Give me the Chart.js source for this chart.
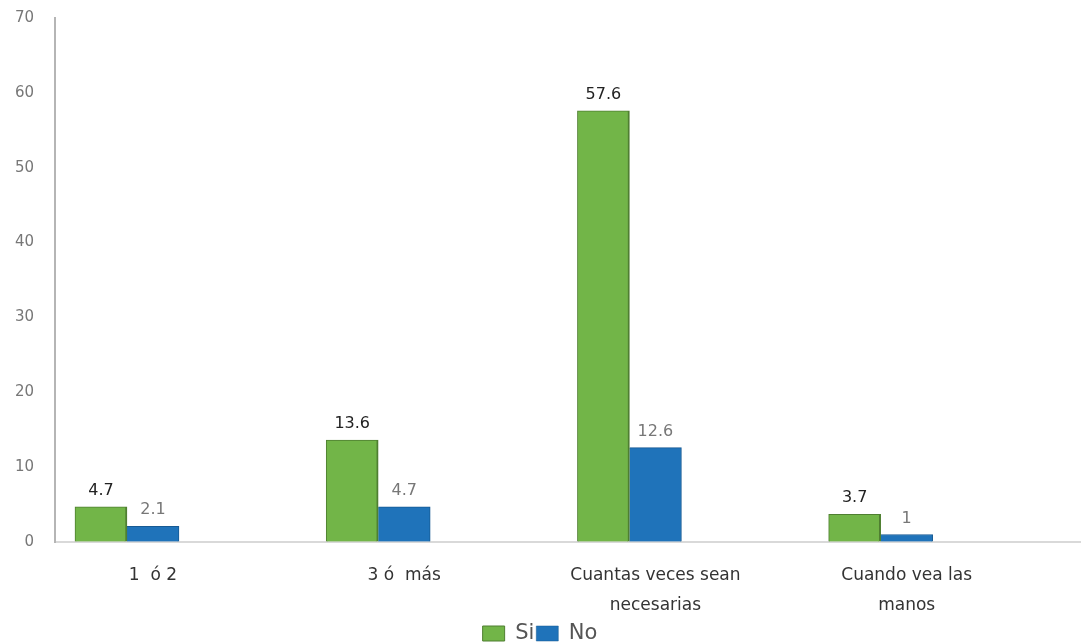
<!DOCTYPE html>
<html>
<head>
<meta charset="utf-8">
<title>Si / No</title>
<script src="https://cdn.jsdelivr.net/npm/chart.js@4/dist/chart.umd.min.js"></script>
<style>
  html, body { margin: 0; padding: 0; background: #fff; }
  #wrap { width: 1083px; height: 642px; }
</style>
</head>
<body>
<div id="wrap"><canvas id="chart"></canvas></div>
<script>
'use strict';

// categories (wrapped the same way as the picture)
let categories = [
  ['1  ó 2'],
  ['3 ó  más'],
  ['Cuantas veces sean', 'necesarias'],
  ['Cuando vea las', 'manos']
];
let siValues = [4.7, 13.6, 57.6, 3.7];
let noValues = [2.1, 4.7, 12.6, 1];
// the original sheet had an empty third series, which is why the bars sit left of the labels
let emptyValues = [null, null, null, null];
let yTicks = [0, 10, 20, 30, 40, 50, 60, 70];

// draw the numbers above the bars
const valueLabels = {
  id: 'valueLabels',
  afterDatasetsDraw(chart) {
    const ctx = chart.ctx;
    chart.data.datasets.forEach((ds, i) => {
      if (!ds.valueColor) return;
      const meta = chart.getDatasetMeta(i);
      meta.data.forEach((bar, j) => {
        if (ds.data[j] == null) return;
        ctx.save();
        ctx.font = ds.valueFont;
        ctx.fillStyle = ds.valueColor;
        ctx.textAlign = 'center';
        ctx.textBaseline = 'bottom';
        ctx.fillText(String(ds.data[j]), bar.x, bar.y - 8);
        ctx.restore();
      });
    });
  }
};

function renderChart() {
  const ctx = document.getElementById('chart');
  const config = {
    type: 'bar',
    data: {
      labels: categories.map((c, i) => i),
      datasets: [
        {
          label: 'Si',
          data: siValues,
          backgroundColor: '#72b548',
          borderColor: '#4f7f31',
          borderWidth: { right: 2, top: 1, left: 1 },
          valueColor: '#222',
          valueFont: '16px "DejaVu Sans"'
        },
        {
          label: 'No',
          data: noValues,
          backgroundColor: '#1f73ba',
          borderColor: '#175a93',
          borderWidth: { right: 1, top: 1 },
          valueColor: '#777',
          valueFont: '16px "DejaVu Sans"'
        },
        {
          label: '',
          data: emptyValues,
          backgroundColor: 'rgba(0,0,0,0)'
        }
      ]
    },
    options: {
      responsive: false,
      animation: false,
      layout: { padding: { top: 18, right: 3, left: 0, bottom: -12 } },
      datasets: {
        bar: { barThickness: 52 }
      },
      scales: {
        x: {
          type: 'linear',
          bounds: 'data',
          offset: false,
          min: -0.39,
          max: 3.69,
          afterBuildTicks: (axis) => { axis.ticks = categories.map((c, i) => ({ value: i })); },
          afterFit: (axis) => { axis.height = 79; },
          grid: { display: false, drawTicks: false, offset: false },
          border: { display: true, color: '#d9d9d9', width: 2 },
          ticks: {
            padding: 19,
            color: '#333',
            font: { family: 'DejaVu Sans', size: 17, lineHeight: '30px' },
            maxRotation: 0,
            autoSkip: false,
            callback: (v) => categories[v] || ''
          }
        },
        y: {
          min: 0,
          max: 70,
          afterBuildTicks: (axis) => { axis.ticks = yTicks.map(v => ({ value: v })); },
          afterFit: (axis) => { axis.width = 55; },
          grid: {
            display: true,
            drawOnChartArea: false,
            drawTicks: true,
            tickLength: 21,
            color: 'rgba(0,0,0,0)'
          },
          border: { display: true, color: '#b5b5b5', width: 2 },
          ticks: {
            padding: 0,
            color: '#777',
            font: { family: 'DejaVu Sans', size: 15 }
          }
        }
      },
      plugins: {
        legend: {
          position: 'bottom',
          labels: {
            color: '#555',
            font: { family: 'DejaVu Sans', size: 21 },
            boxWidth: 22,
            boxHeight: 15,
            padding: 2,
            filter: (item) => item.text !== ''
          }
        },
        tooltip: { enabled: false }
      }
    },
    plugins: [valueLabels]
  };
  new Chart(ctx, config);
}

document.getElementById('chart').width = 1083;
document.getElementById('chart').height = 642;
renderChart();
</script>
</body>
</html>
